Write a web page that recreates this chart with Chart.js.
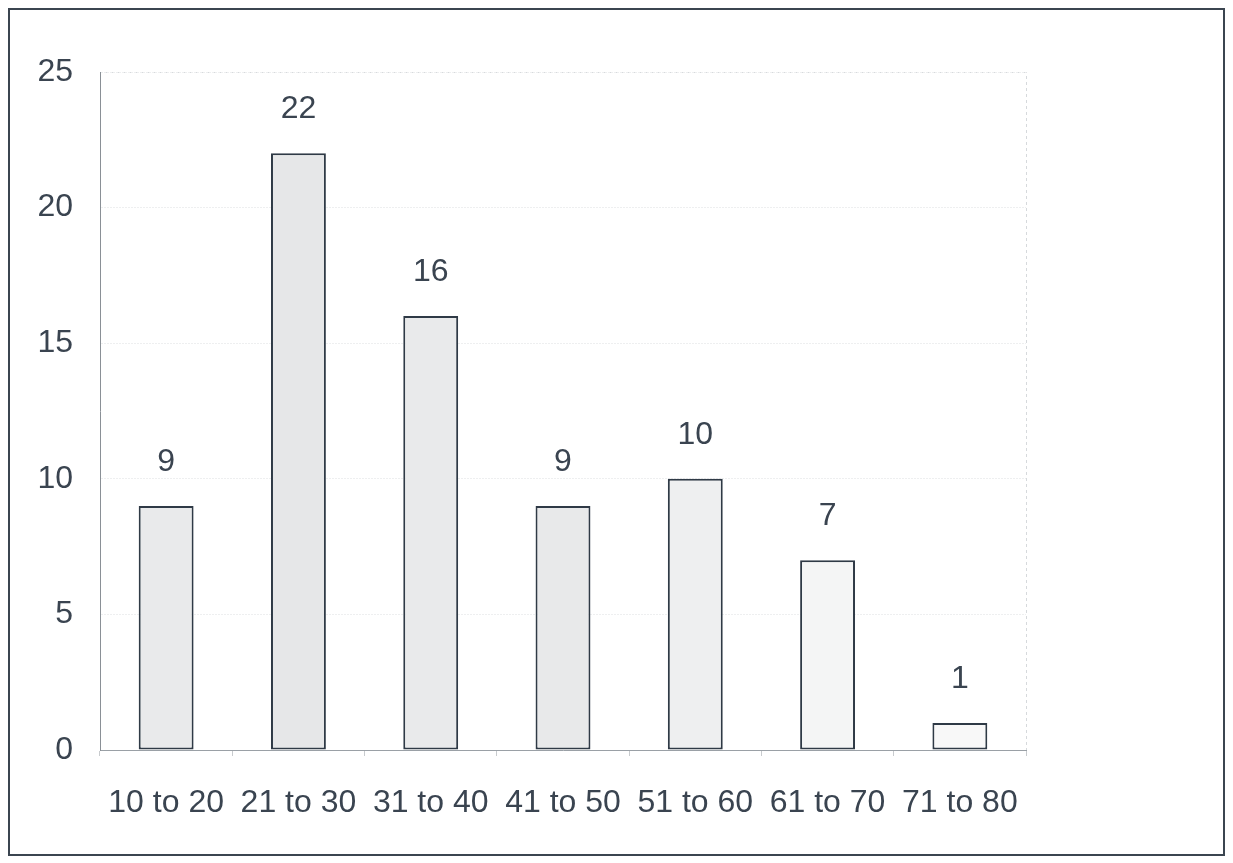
<!DOCTYPE html>
<html>
<head>
<meta charset="utf-8">
<script src="https://cdn.jsdelivr.net/npm/chart.js@4/dist/chart.umd.min.js"></script>
<style>
  html, body { margin: 0; padding: 0; background: #fff; }
  #wrap { width: 1233px; height: 863px; }
</style>
</head>
<body>
<div id="wrap"><canvas id="bar-chart" width="1233" height="863"></canvas></div>
<script>
const ageGroups = ["10 to 20", "21 to 30", "31 to 40", "41 to 50", "51 to 60", "61 to 70", "71 to 80"];
const counts = [9, 22, 16, 9, 10, 7, 1];
const barFills = ["#e9eaeb", "#e6e7e8", "#e9eaeb", "#e8e9ea", "#eeeff0", "#f4f5f5", "#f8f8f8"];
const yTicks = [0, 5, 10, 15, 20, 25];

const ink = "#3a4450";
const font = "'Liberation Sans', Arial, sans-serif";
const fontSize = 32;

// frame around the whole picture, dotted box around the plot, numbers over the bars
const extras = {
  id: "extras",
  beforeDraw(chart) {
    const ctx = chart.ctx;
    ctx.save();
    ctx.fillStyle = "#fff";
    ctx.fillRect(0, 0, chart.width, chart.height);
    ctx.strokeStyle = "#3b4550";
    ctx.lineWidth = 2;
    ctx.strokeRect(9, 9, 1215, 846);
    const a = chart.chartArea;
    ctx.strokeStyle = "#d6d9dc";
    ctx.lineWidth = 1;
    ctx.setLineDash([3, 3]);
    ctx.beginPath();
    ctx.moveTo(a.left, a.top + 0.5);
    ctx.lineTo(a.right + 0.5, a.top + 0.5);
    ctx.lineTo(a.right + 0.5, a.bottom);
    ctx.stroke();
    ctx.restore();
  },
  afterDatasetsDraw(chart) {
    const ctx = chart.ctx;
    const meta = chart.getDatasetMeta(0);
    ctx.save();
    ctx.fillStyle = ink;
    ctx.font = fontSize + "px " + font;
    ctx.textAlign = "center";
    ctx.textBaseline = "middle";
    meta.data.forEach((bar, i) => {
      ctx.fillText(String(counts[i]), bar.x, bar.y - 44);
    });
    ctx.restore();
  },
};

new Chart(document.getElementById("bar-chart"), {
  type: "bar",
  data: {
    labels: ageGroups,
    datasets: [
      {
        data: counts,
        backgroundColor: barFills,
        borderColor: "#2f3a46",
        borderWidth: 2,
        borderSkipped: false,
        barPercentage: 0.83,
        categoryPercentage: 0.5,
      },
    ],
  },
  options: {
    responsive: false,
    animation: false,
    layout: { padding: { top: 72, right: 207, bottom: 0, left: 0 } },
    plugins: {
      legend: { display: false },
      tooltip: { enabled: false },
    },
    scales: {
      x: {
        grid: {
          drawOnChartArea: false,
          drawTicks: true,
          tickLength: 6,
          color: "#c8cbce",
          offset: true,
        },
        border: { color: "#9aa0a6", dash: [3, 2], width: 1 },
        ticks: {
          color: ink,
          font: { size: fontSize, family: font },
          padding: 28,
          maxRotation: 0,
          autoSkip: false,
        },
        afterFit(scale) { scale.height = 113; },
      },
      y: {
        min: 0,
        max: 25,
        afterBuildTicks(scale) { scale.ticks = yTicks.map((v) => ({ value: v })); },
        grid: { color: "#eeeff0", drawTicks: false },
        border: { color: "#8a9096", dash: [2, 1], width: 1 },
        ticks: { color: ink, font: { size: fontSize, family: font }, padding: 27 },
        afterFit(scale) { scale.width = 100; },
      },
    },
  },
  plugins: [extras],
});
</script>
</body>
</html>
